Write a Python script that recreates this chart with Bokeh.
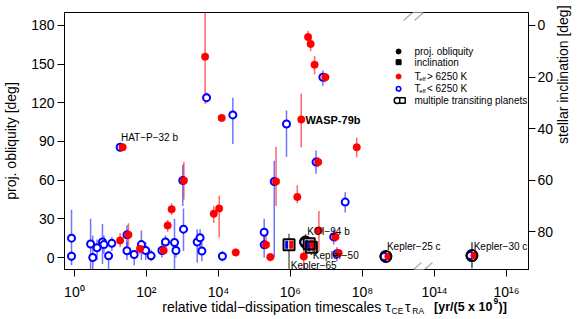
import math
from bokeh.plotting import figure
from bokeh.models import Range1d, LinearAxis, FixedTicker, Label, PolyAnnotation, ColumnDataSource
from bokeh.transform import dodge
from bokeh.embed import file_html
from bokeh.resources import INLINE

# ---------------- data ----------------
# log10 of relative tidal-dissipation timescale, projected obliquity [deg] and its error range
blue_logt = [-0.08, -0.08, 0.45, 0.51, 0.63, 0.78, 0.82, 0.95, 1.04, 1.27, 1.46, 1.46, 1.66, 1.86,
             1.98, 2.13, 2.43, 2.53, 2.78, 2.82, 3.01, 3.03, 3.41, 3.49, 3.54, 3.67, 4.11, 4.40,
             5.27, 5.27, 5.55, 5.89, 6.71, 6.90, 7.20, 7.29, 7.52]
blue_obl = [15, 1, 10.5, 0, 7.5, 12, 10, 1.3, 11, 85.5, 17.6, 5.2, 2.3, 10,
            5.4, 1.3, 5.4, 12, 11.6, 5.4, 59.7, 22, 12, 15.3, 5, 124, 1, 110.6,
            19.6, 9.8, 59, 103.6, 74, 139.8, 16, 3, 43]
blue_lo = [-6, -3, -10, -10, -2, -5, 3, -10, 5, 83, 9, -2, -6, -2,
           -2, -3, 0, 8, -10, 0, 40, 5, -4, 5, -3, 120, -3, 88,
           10, 0, 0, 78, 65, 133, 10, -3, 35]
blue_hi = [37, 5, 30, 17, 14, 26, 17, 5, 16, 88, 25, 12, 5, 21,
           12, 6, 11, 17, 30, 10, 72, 38, 22, 22, 12, 128, 5, 124,
           30, 20, 75, 114, 83, 145, 22, 8, 50.6]

red_logt = [1.34, 1.27, 1.50, 1.82, 2.48, 2.59, 2.70, 3.04, 3.63, 3.87, 4.02, 4.09, 4.48, 5.32,
            5.44, 5.60, 6.19, 6.30, 6.37, 6.49, 6.56, 6.67, 6.77, 6.79, 6.97, 7.25, 7.34, 7.84]
red_obl = [85.5, 13.2, 17.6, 6.7, 5.4, 24.8, 37.4, 59.7, 155.8, 33.9, 38, 108.3, 3.9, 9.8,
           0.3, 59, 47, 107, 0.8, 171, 165.7, 149.6, 74, 21, 139.8, 16, 3.4, 85.5]
red_lo = [83, 8, 9, 3, 2, 20, 33, 45, 119, 27, 15.5, 106, 1, 8,
          -3, 40, 42, 85.5, -9, 166, 160, 142, 70, 5, 136, 12, 0, 77.7]
red_hi = [88, 19, 26.6, 10, 9, 29, 42, 74, 195, 40, 48, 111, 7, 20,
          3, 86, 56, 127, 8, 176, 170, 156.6, 78, 36, 143, 20, 6, 93]

# systems with multiple transiting planets: projected obliquity
multi_names = ["KOI\u221294 b", "Kepler\u221225 c", "Kepler\u221230 c"]
multi_logt = [6.42, 8.65, 15.04]
multi_obl = [12, 0.8, 1.5]
multi_lo = [6, -3.6, -8.3]
multi_hi = [18, 5.4, 11.9]

# systems with multiple transiting planets: stellar inclination [deg]
sq_names = ["Kepler\u221265", "Kepler\u221250", ""]
sq_logt = [5.96, 6.58, 6.52]
sq_incl = [85.1, 86.0, 84.7]
sq_lo = [80.8, 84.5, 83.0]
sq_hi = [94.4, 89.0, 87.5]

# highlighted single planets (index into the red series)
named_red = {"HAT\u2212P\u221232 b": 0, "WASP-79b": 17}

x_tick_exps = [0, 2, 4, 6, 8, 14, 16]
y_ticks = [0, 30, 60, 90, 120, 150, 180]
incl_ticks = [0, 20, 40, 60, 80]

# ---------------- axis break ----------------
BREAK_POS = 9.35   # axis position of the break
GAP = 4            # decades removed by the break


def pos(lt):
    return lt if lt < BREAK_POS else lt - GAP


# layout (pixels of the 581x319 canvas)
FL, FR, FT, FB = 63, 532, 12, 269


def rx(px):
    return (px - 73) / 36.4


def ry(py):
    return (257 - py) / 1.289


def sx(px):          # screen units, relative to frame left
    return px - FL


def sy(py):          # screen units, relative to frame bottom (upwards)
    return FB - py


X0, X1 = rx(FL), rx(FR)
Y0, Y1 = ry(FB), ry(FT)

FONT = "Liberation Sans"

p = figure(width=581, height=319, x_range=Range1d(X0, X1), y_range=Range1d(Y0, Y1),
           output_backend="svg", toolbar_location=None,
           min_border_left=FL, min_border_right=581 - FR, min_border_top=FT, min_border_bottom=319 - FB)
p.extra_y_ranges = {"incl": Range1d((180 - Y0) / 2, (180 - Y1) / 2)}
p.xgrid.visible = False
p.ygrid.visible = False
p.outline_line_color = "black"
p.outline_line_width = 1
p.background_fill_color = "white"
p.border_fill_color = "white"

sup = str.maketrans("0123456789", "\u2070\u00b9\u00b2\u00b3\u2074\u2075\u2076\u2077\u2078\u2079")
xt_pos = [pos(e) for e in x_tick_exps]
p.xaxis.ticker = FixedTicker(ticks=xt_pos)
p.xaxis.major_label_overrides = {tp: "10" + str(e).translate(sup) for tp, e in zip(xt_pos, x_tick_exps)}
p.yaxis.ticker = FixedTicker(ticks=y_ticks)
p.yaxis.axis_label = "proj. obliquity [deg]"

right = LinearAxis(y_range_name="incl", ticker=FixedTicker(ticks=incl_ticks))
p.add_layout(right, "right")

for ax in [p.xaxis[0], p.yaxis[0], right]:
    ax.major_tick_out = 7
    ax.major_tick_in = 0
    ax.minor_tick_line_color = None
    ax.axis_line_color = "black"
    ax.major_tick_line_color = "black"
    ax.major_label_text_font = FONT
    ax.major_label_text_font_size = "14px"
    ax.major_label_text_color = "black"
    ax.axis_label_text_font = FONT
    ax.axis_label_text_font_size = "14px"
    ax.axis_label_text_font_style = "normal"
    ax.axis_label_text_color = "black"
p.xaxis.major_label_standoff = 7
p.yaxis.major_label_standoff = 3
p.yaxis.axis_label_standoff = 9
right.major_label_standoff = 2


def text_axis(side, pieces, size, style, standoff, orientation="horizontal"):
    """Guide that only carries text pieces (used for axis titles drawn outside the frame)."""
    ticks = [round(v, 5) for v, _ in pieces]
    ax = LinearAxis(ticker=FixedTicker(ticks=ticks),
                    major_label_overrides={t: s for t, (_, s) in zip(ticks, pieces)})
    ax.axis_line_color = None
    ax.major_tick_line_color = None
    ax.minor_tick_line_color = None
    ax.major_tick_out = 0
    ax.major_tick_in = 0
    ax.minor_tick_out = 0
    ax.minor_tick_in = 0
    ax.major_label_standoff = standoff
    ax.major_label_text_font = FONT
    ax.major_label_text_font_size = size
    ax.major_label_text_font_style = style
    ax.major_label_text_color = "black"
    ax.major_label_orientation = orientation
    p.add_layout(ax, side)
    return ax


# right-hand title (reads bottom to top)
text_axis("right", [(ry(143.5), "stellar inclination [deg]")], "14px", "normal", 6,
          orientation=math.pi / 2)

# x-axis title with sub/superscripts, made of text pieces
text_axis("below", [(rx(272.5), "relative tidal\u2212dissipation timescales"),
                    (rx(390), "\u03c4"), (rx(410), "\u03c4")], "14px", "normal", -4)
text_axis("below", [(rx(399.5), "CE"), (rx(420.5), "RA")], "8.5px", "normal", -12)
text_axis("below", [(rx(466), "[yr/(5 x 10"), (rx(506), ")]")], "12.5px", "bold", -19)
text_axis("below", [(rx(499), "9")], "8.5px", "bold", -21)

# ---------------- data glyphs ----------------
bsrc = ColumnDataSource(dict(x=[pos(v) for v in blue_logt], y=blue_obl, lo=blue_lo, hi=blue_hi))
rsrc = ColumnDataSource(dict(x=[pos(v) for v in red_logt], y=red_obl, lo=red_lo, hi=red_hi))
msrc = ColumnDataSource(dict(x=[pos(v) for v in multi_logt], y=multi_obl, lo=multi_lo, hi=multi_hi))
ssrc = ColumnDataSource(dict(x=[pos(v) for v in sq_logt], y=sq_incl, lo=sq_lo, hi=sq_hi))

p.segment(x0="x", y0="lo", x1="x", y1="hi", source=bsrc, line_color="blue", line_alpha=0.55, line_width=1.5)
p.segment(x0="x", y0="lo", x1="x", y1="hi", source=rsrc, line_color="red", line_alpha=0.6, line_width=1.5)
p.segment(x0="x", y0="lo", x1="x", y1="hi", source=msrc, line_color="black", line_alpha=0.7, line_width=1.5)
p.segment(x0="x", y0="lo", x1="x", y1="hi", source=ssrc, y_range_name="incl",
          line_color="black", line_alpha=0.6, line_width=1.5)

p.scatter("x", "y", source=bsrc, marker="circle", size=7, fill_color="white",
          line_color="blue", line_width=2)
p.scatter("x", "y", source=rsrc, marker="circle", size=7.5, fill_color="red",
          line_color="red", line_width=0.5)

# multi-planet circles: blue ring / red dot inside black ring
p.scatter(dodge("x", -0.05), "y", source=msrc, marker="circle", size=7, fill_color="white",
          line_color="blue", line_width=2)
p.scatter(dodge("x", 0.06), "y", source=msrc, marker="circle", size=6.5, fill_color="red", line_color="red")
p.scatter("x", "y", source=msrc, marker="circle", size=11, fill_color=None, line_color="black", line_width=2)

# inclination squares
p.scatter("x", "y", source=ssrc, y_range_name="incl", marker="square", size=11,
          fill_color="white", line_color=None)
p.rect(dodge("x", -0.065), "y", width=3, height=8, width_units="screen", height_units="screen",
       source=ssrc, y_range_name="incl", fill_color="blue", line_color=None)
p.rect(dodge("x", 0.06), "y", width=4, height=8, width_units="screen", height_units="screen",
       source=ssrc, y_range_name="incl", fill_color="red", line_color=None)
p.scatter("x", "y", source=ssrc, y_range_name="incl", marker="square", size=11,
          fill_color=None, line_color="black", line_width=2)

# ---------------- point labels ----------------
lab_kw = dict(text_font=FONT, text_font_size="10px", text_baseline="middle", text_align="left",
              text_color="black")
for name, i in named_red.items():
    bold = name.startswith("WASP")
    p.add_layout(Label(x=pos(red_logt[i]), y=red_obl[i],
                       x_offset=4.2 if bold else -1.7, y_offset=0 if bold else 9.4,
                       text=name, **dict(lab_kw, text_font_size="11px" if bold else "10px",
                                         text_font_style="bold" if bold else "normal")))
m_off = [(1.6, 11), (1, 10.3), (1.7, 9.3)]
for name, lt, ob, (xo, yo) in zip(multi_names, multi_logt, multi_obl, m_off):
    p.add_layout(Label(x=pos(lt), y=ob, x_offset=xo, y_offset=yo, text=name, **lab_kw))
s_off = [(1.7, -20.7), (1.5, -8.3), (0, 0)]
for name, lt, inc, (xo, yo) in zip(sq_names, sq_logt, sq_incl, s_off):
    if name:
        p.add_layout(Label(x=pos(lt), y=inc, y_range_name="incl", x_offset=xo, y_offset=yo,
                           text=name, **lab_kw))

# ---------------- legend (manual) ----------------
leg_x_mark, leg_x_text = rx(400.7), rx(416.7)
leg_rows = [ry(51), ry(61.7), ry(76), ry(88.3), ry(100)]
p.scatter([leg_x_mark], [leg_rows[0]], marker="circle", size=5, color="black")
p.scatter([leg_x_mark], [leg_rows[1]], marker="square", size=5, color="black")
p.scatter([leg_x_mark], [leg_rows[2]], marker="circle", size=5, color="red")
p.scatter([leg_x_mark], [leg_rows[3]], marker="circle", size=4.5, fill_color="white",
          line_color="blue", line_width=1.6)
p.scatter([rx(399.3)], [leg_rows[4]], marker="circle", size=6, fill_color="white",
          line_color="black", line_width=1.6)
p.scatter([rx(404.6)], [leg_rows[4]], marker="square", size=5.5, fill_color="white",
          line_color="black", line_width=1.5)
leg_kw = dict(text_font=FONT, text_font_size="10px", text_baseline="middle", text_align="left",
              text_color="black")
p.add_layout(Label(x=leg_x_text, y=leg_rows[0], text="proj. obliquity", **leg_kw))
p.add_layout(Label(x=leg_x_text, y=leg_rows[1], text="inclination", **leg_kw))
p.add_layout(Label(x=leg_x_text, y=leg_rows[4], text="multiple transiting planets", **leg_kw))
for row, txt in [(leg_rows[2], "> 6250 K"), (leg_rows[3], "< 6250 K")]:
    p.add_layout(Label(x=leg_x_text, y=row, text="T", **leg_kw))
    p.add_layout(Label(x=rx(421.5), y=row, y_offset=-2.5, text="eff", **dict(leg_kw, text_font_size="6px")))
    p.add_layout(Label(x=rx(429.3), y=row, text=txt, **leg_kw))

# ---------------- axis-break marks (screen units) ----------------
for (ya, yb) in [(20, 4), (278, 262)]:
    p.add_layout(PolyAnnotation(xs=[sx(402), sx(420), sx(431), sx(413)], ys=[sy(ya), sy(yb), sy(yb), sy(ya)],
                                xs_units="screen", ys_units="screen",
                                fill_color="white", fill_alpha=1, line_alpha=0, level="overlay"))
    for x_start in [402, 413]:
        p.add_layout(PolyAnnotation(xs=[sx(x_start), sx(x_start + 18)], ys=[sy(ya), sy(yb)],
                                    xs_units="screen", ys_units="screen",
                                    fill_alpha=0, line_color="black", line_width=1.5, level="overlay"))

open("out.html", "w").write(file_html(p, INLINE))
